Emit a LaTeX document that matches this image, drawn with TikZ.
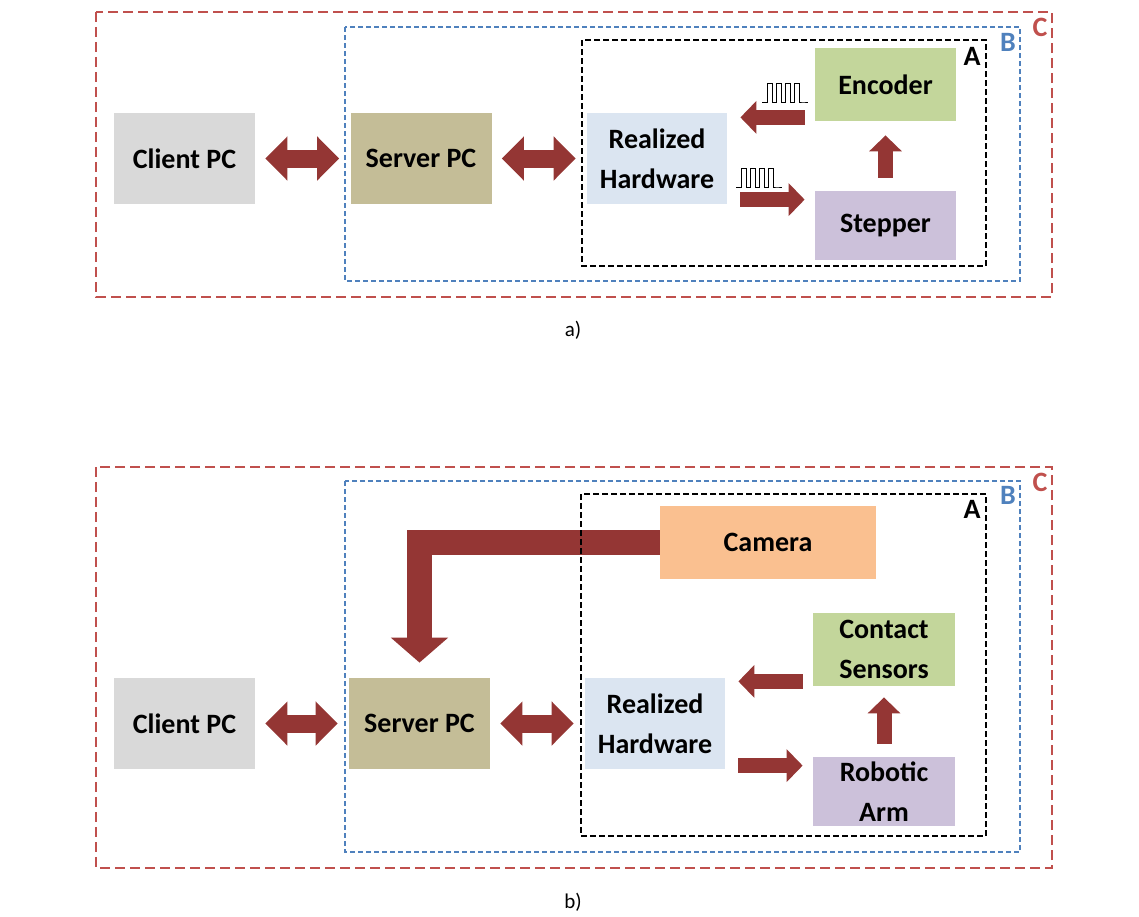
\documentclass[tikz,border=0pt]{standalone}
\usepackage{fontspec}
\setmainfont{Carlito}
\usetikzlibrary{arrows.meta}

\definecolor{arrowred}{HTML}{943634}
\definecolor{clientgray}{HTML}{D9D9D9}
\definecolor{servertan}{HTML}{C4BD97}
\definecolor{hwblue}{HTML}{DBE5F1}
\definecolor{sensegreen}{HTML}{C3D69B}
\definecolor{motorlilac}{HTML}{CCC1DA}
\definecolor{camorange}{HTML}{FAC090}
\definecolor{framered}{HTML}{C0504D}
\definecolor{frameblue}{HTML}{4F81BD}

\tikzset{
  pulses/.pic={
    \draw[line width=0.5pt] (0,0) -- ++(5,0)
      foreach \k in {1,...,4}{ -- ++(0,-19) -- ++(5,0) -- ++(0,19) -- ++(4,0) }
      -- ++(5,0);
  }
}

\begin{document}
\begin{tikzpicture}[x=0.5pt, y=-0.5pt,
  box/.style={minimum width=70.5pt, minimum height=45.5pt, inner sep=0pt,
    align=center, font=\bfseries\fontsize{14}{20}\selectfont},
  small/.style={box, minimum height=36.5pt},
  flow/.style={draw=arrowred, line width=7.5pt, -{Triangle[width=16pt,length=8pt]}},
  biflow/.style={draw=arrowred, line width=9pt,
    {Triangle[width=21.5pt,length=11pt]}-{Triangle[width=21.5pt,length=11pt]},
    shorten <=5pt, shorten >=5.5pt},
  camflow/.style={draw=arrowred, line width=12.5pt, line join=miter,
    -{Triangle[width=28pt,length=12.5pt]}},
  frameC/.style={draw=framered, line width=0.6pt, dash pattern=on 5pt off 2.5pt},
  frameB/.style={draw=frameblue, line width=0.6pt, dash pattern=on 2.5pt off 1.5pt},
  frameA/.style={draw=black, line width=0.6pt, dash pattern=on 3pt off 1.5pt},
  tag/.style={font=\bfseries\fontsize{14}{16}\selectfont, inner sep=0pt},
  caption/.style={font=\fontsize{10.5}{12}\selectfont, inner sep=0pt}]
  \useasboundingbox (0,0) rectangle (1139,916);

  % ---- a) stepper / encoder
  \node[box, fill=clientgray] (cliA) at (184.5,158.5) {Client PC};
  \node[box, fill=servertan] (srvA) at (421,158.5) {Server PC};
  \node[box, fill=hwblue, minimum width=70pt] (hwA) at (657,158.5) {Realized\\Hardware};
  \node[small, fill=sensegreen] (enc) at (885.5,84.5) {Encoder};
  \node[small, fill=motorlilac, minimum height=34.5pt] (stp) at (885.5,225.5) {Stepper};

  \draw[biflow] (cliA) -- (srvA);
  \draw[biflow] (srvA) -- (hwA);
  \coordinate (encIn) at ([xshift=-5pt,yshift=2pt]enc.south west);
  \coordinate (stpIn) at ([xshift=-5pt,yshift=-4.5pt]stp.north west);
  \draw[flow, shorten >=6.5pt] (encIn) -- (encIn -| hwA.east);
  \draw[flow, shorten <=6.5pt] (stpIn -| hwA.east) -- (stpIn);
  \draw[flow, shorten <=6.5pt, shorten >=7pt] (stp.north) -- (enc.south);

  \pic at (762,102) {pulses};
  \pic at (736,187) {pulses};

  \draw[frameC] (96,12) rectangle (1052,297);
  \draw[frameB] (345,27) rectangle (1020,281);
  \draw[frameA] (582,40) rectangle (986,266);
  \node[tag, text=framered] (tagCa) at (1040,27) {C};
  \node[tag, text=frameblue] (tagBa) at (1008,42) {B};
  \node[tag] (tagAa) at (972,56) {A};
  \node[caption] (capA) at (573,330) {a)};

  % ---- b) robotic arm / camera
  \node[box, fill=clientgray] (cliB) at (184.5,723.5) {Client PC};
  \node[box, fill=servertan] (srvB) at (419.5,723.5) {Server PC};
  \node[box, fill=hwblue, minimum width=70pt] (hwB) at (655,723.5) {Realized\\Hardware};
  \node[small, fill=camorange, minimum width=108pt] (cam) at (768,542.5) {Camera};
  \node[small, fill=sensegreen, minimum width=71pt] (con) at (884,649.5) {Contact\\Sensors};
  \node[small, fill=motorlilac, minimum width=71pt, minimum height=34.5pt] (arm) at (884,791.5) {Robotic\\Arm};

  \draw[biflow] (cliB) -- (srvB);
  \draw[biflow] (srvB) -- (hwB);
  \coordinate (conIn) at ([xshift=-5pt,yshift=2.5pt]con.south west);
  \coordinate (armIn) at ([xshift=-5pt,yshift=-4.5pt]arm.north west);
  \draw[flow, shorten >=6.5pt] (conIn) -- (conIn -| hwB.east);
  \draw[flow, shorten <=6.5pt] (armIn -| hwB.east) -- (armIn);
  \draw[flow, shorten <=6.5pt, shorten >=5.5pt] (arm.north) -- (con.south);
  \draw[camflow, shorten >=7.5pt] (cam.west) -| (srvB.north);

  \draw[frameC] (96,467) rectangle (1052,868);
  \draw[frameB] (345,481) rectangle (1020,852);
  \draw[frameA] (581,494) rectangle (986,836);
  \node[tag, text=framered] (tagCb) at (1040,482) {C};
  \node[tag, text=frameblue] (tagBb) at (1008,495) {B};
  \node[tag] (tagAb) at (972,509) {A};
  \node[caption] (capB) at (573,902) {b)};
\end{tikzpicture}
\end{document}
